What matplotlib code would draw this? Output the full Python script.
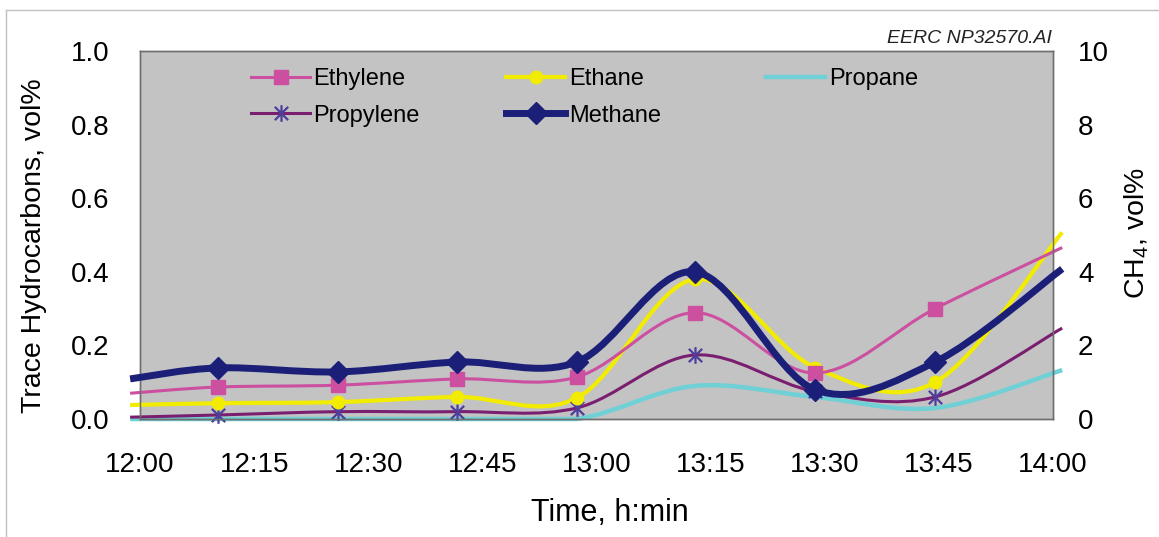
import numpy as np
import matplotlib
matplotlib.use("Agg")
import matplotlib.pyplot as plt
from matplotlib.path import Path
from matplotlib.patches import PathPatch
from matplotlib.lines import Line2D
from matplotlib.legend import Legend

plt.rcParams['font.family'] = ['Liberation Sans', 'DejaVu Sans']
plt.rcParams['mathtext.fontset'] = 'custom'
plt.rcParams['mathtext.rm'] = 'Liberation Sans'
plt.rcParams['mathtext.it'] = 'Liberation Sans:italic'

# --- data: minutes after 12:00 ---
minutes = [-1.3, 10.3, 26.0, 41.7, 57.4, 72.9, 88.7, 104.5, 121.2]
time_labels = ['12:00', '12:15', '12:30', '12:45', '13:00', '13:15', '13:30', '13:45', '14:00']
time_ticks = [0, 15, 30, 45, 60, 75, 90, 105, 120]

# trace hydrocarbons, vol%
ethylene = [0.070, 0.087, 0.092, 0.109, 0.114, 0.289, 0.125, 0.300, 0.466]
ethane = [0.038, 0.043, 0.046, 0.060, 0.057, 0.380, 0.140, 0.100, 0.507]
propane = [0.000, 0.000, 0.000, 0.000, 0.000, 0.090, 0.060, 0.030, 0.133]
propylene = [0.005, 0.011, 0.020, 0.020, 0.030, 0.174, 0.075, 0.060, 0.247]
# CH4, vol% (right axis)
methane = [1.09, 1.39, 1.28, 1.55, 1.55, 4.00, 0.80, 1.55, 4.08]


def smooth_path(x, y, keep_flat=False):
    # Catmull-Rom style bezier through the points (like spreadsheet "smoothed line")
    pts = np.column_stack([x, y]).astype(float)
    n = len(pts)
    verts = [pts[0]]
    codes = [Path.MOVETO]
    for i in range(n - 1):
        p0 = pts[max(i - 1, 0)]
        p1 = pts[i]
        p2 = pts[i + 1]
        p3 = pts[min(i + 2, n - 1)]
        c1 = p1 + (p2 - p0) / 6
        c2 = p2 - (p3 - p1) / 6
        if keep_flat and p1[1] == p2[1]:
            # no dip below the baseline on flat stretches
            c1[1] = c2[1] = p1[1]
        verts += [c1, c2, p2]
        codes += [Path.CURVE4] * 3
    return Path(verts, codes)


# asterisk marker: X with a vertical bar
asterisk = Path([(0, -1), (0, 1), (-0.8, -0.8), (0.8, 0.8), (-0.8, 0.8), (0.8, -0.8)],
                [Path.MOVETO, Path.LINETO, Path.MOVETO, Path.LINETO, Path.MOVETO, Path.LINETO])

c_ethylene = '#cc4fa0'
c_ethane = '#f2ec00'
c_propane = '#6fd0d6'
c_propylene = '#7a1f70'
c_star = '#4e3e9c'
c_methane = '#1b1f78'

fig = plt.figure(figsize=(11.59, 5.37), dpi=100)
ax = fig.add_axes([0.1208, 0.2197, 0.7878, 0.6853])
ax.set_facecolor('#c3c3c3')
ax2 = ax.twinx()

mid = slice(1, -1)   # markers only on the measured points inside the range


def draw(axis, y, color, lw, z, keep_flat=False):
    axis.add_patch(PathPatch(smooth_path(minutes, y, keep_flat), fill=False, edgecolor=color,
                             lw=lw, capstyle='butt', joinstyle='round', clip_on=False, zorder=z))


draw(ax, propane, c_propane, 3.2, 2, keep_flat=True)
draw(ax, propylene, c_propylene, 2.2, 3)
draw(ax, ethane, c_ethane, 3.0, 4)
draw(ax, ethylene, c_ethylene, 2.2, 5)

ax.plot(minutes[mid], propylene[mid], linestyle='none', marker=asterisk, markersize=12,
        markeredgecolor=c_star, markeredgewidth=1.6, clip_on=False, zorder=6)
ax.plot(minutes[mid], ethane[mid], linestyle='none', marker='o', markersize=9,
        markerfacecolor=c_ethane, markeredgecolor=c_ethane, clip_on=False, zorder=6)
ax.plot(minutes[mid], ethylene[mid], linestyle='none', marker='s', markersize=10.5,
        markerfacecolor=c_ethylene, markeredgecolor=c_ethylene, clip_on=False, zorder=7)

draw(ax2, methane, c_methane, 5.0, 8)
ax2.plot(minutes[mid], methane[mid], linestyle='none', marker='D', markersize=11,
         markerfacecolor=c_methane, markeredgecolor=c_methane, clip_on=False, zorder=9)

# axes
ax.set_xlim(0, 120)
ax.set_ylim(0, 1.0)
ax2.set_ylim(0, 10)
ax.set_xticks(time_ticks)
ax.set_xticklabels(time_labels)
ax.set_yticks(np.arange(0, 1.01, 0.2))
ax.set_yticklabels([f'{v:.1f}' for v in np.arange(0, 1.01, 0.2)])
ax2.set_yticks(range(0, 11, 2))

ax.tick_params(axis='x', length=0, pad=24, labelsize=20)
ax.tick_params(axis='y', length=0, pad=22, labelsize=20)
ax2.tick_params(axis='y', length=0, pad=18, labelsize=20)

for a in (ax, ax2):
    for s in a.spines.values():
        s.set_color('#6e6e6e')
        s.set_linewidth(1.0)

ax.set_xlabel('Time, h:min', fontsize=22)
ax.xaxis.set_label_coords(0.515, -0.215)
ax.set_ylabel('Trace Hydrocarbons, vol%', fontsize=20.5)
ax.yaxis.set_label_coords(-0.102, 0.47)
ax2.set_ylabel('CH$_4$, vol%', fontsize=20.5, rotation=90)
ax2.yaxis.set_label_coords(1.076, 0.505)

# legend, one block per column
handles = {
    'Ethylene': Line2D([], [], color=c_ethylene, lw=2.2, marker='s', markersize=10,
                       markeredgecolor=c_ethylene),
    'Propylene': Line2D([], [], color=c_propylene, lw=2.2, marker=asterisk, markersize=12,
                        markeredgecolor=c_star, markeredgewidth=1.6),
    'Ethane': Line2D([], [], color=c_ethane, lw=3.0, marker='o', markersize=9,
                     markeredgecolor=c_ethane),
    'Methane': Line2D([], [], color=c_methane, lw=5.0, marker='D', markersize=11,
                      markeredgecolor=c_methane),
    'Propane': Line2D([], [], color=c_propane, lw=3.2),
}
legend_cols = [(['Ethylene', 'Propylene'], 0.1216),
               (['Ethane', 'Methane'], 0.401),
               (['Propane'], 0.686)]
for names, x0 in legend_cols:
    leg = Legend(ax2, [handles[n] for n in names], names, frameon=False, fontsize=17,
                 loc='upper left', bbox_to_anchor=(x0, 0.954), borderaxespad=0,
                 borderpad=0, handlelength=2.5, handletextpad=0.15, labelspacing=0.62)
    ax2.add_artist(leg)

fig.text(0.9077, 0.929, 'EERC NP32570.AI', ha='right', va='center', fontsize=14,
         style='italic', color='#222222')

# thin frame at top-left of the figure
fig.add_artist(Line2D([6 / 1159, 6 / 1159], [0, 1 - 10 / 537], transform=fig.transFigure,
                      color='#c0c0c0', lw=1.0))
fig.add_artist(Line2D([6 / 1159, 1], [1 - 10 / 537, 1 - 10 / 537], transform=fig.transFigure,
                      color='#c0c0c0', lw=1.0))

fig.savefig('out.png', dpi=100, facecolor='white')
